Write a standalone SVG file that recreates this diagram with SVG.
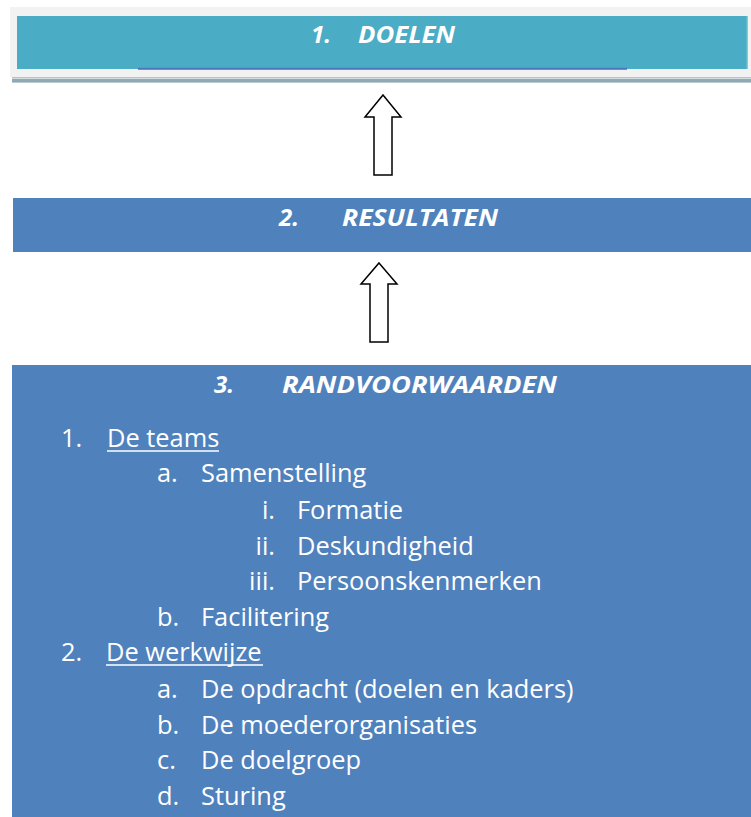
<svg xmlns="http://www.w3.org/2000/svg" width="751" height="817" viewBox="0 0 751 817">
<style>
.h{font-family:"Open Sans","Liberation Sans",sans-serif;font-weight:bold;font-style:italic;font-size:24px;fill:#fff}
.t{font-family:"Open Sans","Liberation Sans",sans-serif;font-size:25.4px;fill:#fff}
.ul{stroke:#fff;stroke-width:1.5}
.arrow{fill:#fff;stroke:#000;stroke-width:1.5;stroke-linejoin:miter}
</style>
<rect width="751" height="817" fill="#fff"/>
<g id="doelen">
<rect x="10" y="7" width="741" height="70" fill="#F2F2F2"/>
<rect x="17" y="16" width="730.5" height="53" fill="#4BACC6"/>
<rect x="746.5" y="16" width="1.2" height="53" fill="#7cc3d6"/>
<rect x="138" y="67.8" width="489" height="2" fill="#4F76C0"/>
<rect x="12" y="77" width="739" height="1" fill="#B5C2C8"/>
<rect x="12" y="78.6" width="739" height="4" fill="#8FAAB4"/>
<text class="h" x="311" y="43">1.</text>
<text class="h" x="358" y="43" textLength="97" lengthAdjust="spacingAndGlyphs">DOELEN</text>
</g>
<g id="resultaten">
<rect x="13" y="198" width="738" height="54" fill="#4F81BD"/>
<text class="h" x="279" y="226">2.</text>
<text class="h" x="342" y="226" textLength="156" lengthAdjust="spacingAndGlyphs">RESULTATEN</text>
</g>
<g id="randvoorwaarden">
<rect x="12" y="365" width="739" height="452" fill="#4F81BD"/>
<text class="h" x="214" y="393">3.</text>
<text class="h" x="282" y="393" textLength="275" lengthAdjust="spacingAndGlyphs">RANDVOORWAARDEN</text>
<text class="t" x="61" y="447">1.</text>
<text class="t" x="107" y="447">De teams</text>
<line class="ul" x1="107" y1="451" x2="219" y2="451"/>
<text class="t" x="157" y="482">a.</text>
<text class="t" x="201" y="482">Samenstelling</text>
<text class="t" x="275" y="519" text-anchor="end">i.</text>
<text class="t" x="297" y="519">Formatie</text>
<text class="t" x="275" y="555" text-anchor="end">ii.</text>
<text class="t" x="297" y="555">Deskundigheid</text>
<text class="t" x="275" y="590" text-anchor="end">iii.</text>
<text class="t" x="297" y="590">Persoonskenmerken</text>
<text class="t" x="157" y="626">b.</text>
<text class="t" x="201" y="626">Facilitering</text>
<text class="t" x="61" y="661">2.</text>
<text class="t" x="106" y="661">De werkwijze</text>
<line class="ul" x1="106" y1="665" x2="263" y2="665"/>
<text class="t" x="157" y="698">a.</text>
<text class="t" x="201" y="698">De opdracht (doelen en kaders)</text>
<text class="t" x="157" y="734">b.</text>
<text class="t" x="201" y="734">De moederorganisaties</text>
<text class="t" x="157" y="769">c.</text>
<text class="t" x="201" y="769">De doelgroep</text>
<text class="t" x="157" y="805">d.</text>
<text class="t" x="201" y="805">Sturing</text>
</g>
<g id="connectors">
<polygon class="arrow" points="383,95 401,117 392,117 392,175 374,175 374,117 365,117"/>
<polygon class="arrow" points="379,263 397,284 388,284 388,342 370,342 370,284 361,284"/>
</g>
</svg>
